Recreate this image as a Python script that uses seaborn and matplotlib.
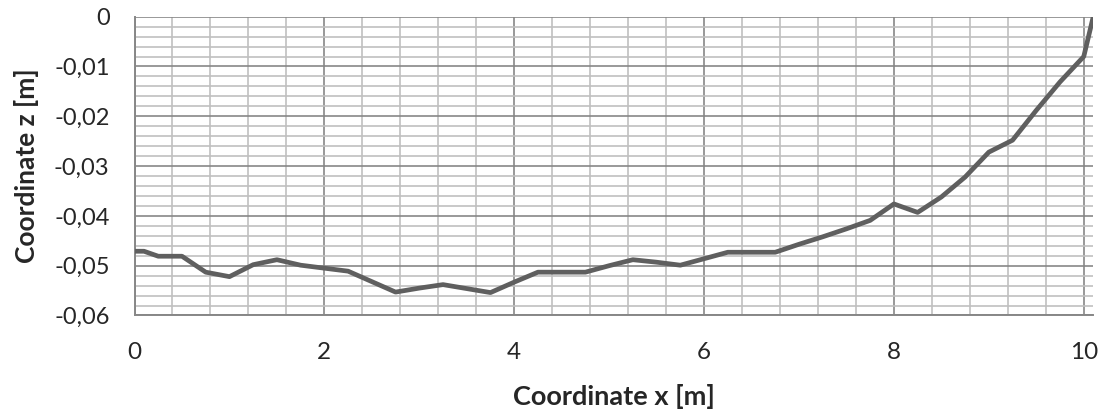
import numpy as np
import pandas as pd
import matplotlib
matplotlib.use("Agg")
import matplotlib.pyplot as plt
import seaborn as sns
from matplotlib.ticker import MultipleLocator, FuncFormatter

# profile along the beam
x_m = [0, 0.1, 0.25, 0.5, 0.75, 1.0, 1.25, 1.5, 1.75, 2.0, 2.25, 2.5, 2.75,
       3.0, 3.25, 3.5, 3.75, 4.0, 4.25, 4.5, 4.75, 5.0, 5.25, 5.5, 5.75,
       6.0, 6.25, 6.5, 6.75, 7.0, 7.25, 7.5, 7.75, 8.0, 8.25, 8.5, 8.75,
       9.0, 9.25, 9.5, 9.75, 10.0, 10.1]
z_m = [-0.0471, -0.0471, -0.0481, -0.0481, -0.0513, -0.0522, -0.0498,
       -0.0488, -0.0499, -0.0505, -0.0511, -0.0532, -0.0553, -0.0545,
       -0.0538, -0.0546, -0.0554, -0.0533, -0.0513, -0.0513, -0.0513,
       -0.0500, -0.0488, -0.0493, -0.0499, -0.0486, -0.0473, -0.0473,
       -0.0473, -0.0457, -0.0442, -0.0426, -0.0409, -0.0376, -0.0393,
       -0.0362, -0.0322, -0.0272, -0.0248, -0.0188, -0.0131, -0.0080, 0.0]

df = pd.DataFrame({"x": x_m, "z": z_m})

sns.set_style("white")
plt.rcParams['font.family'] = ['Lato', 'DejaVu Sans']

fig = plt.figure(figsize=(11.09, 4.16), dpi=100)
ax = fig.add_axes([0.1213, 0.2416, 0.9858 - 0.1213, 0.9599 - 0.2416])

major_c = '#878787'
minor_c = '#c0c0c0'

sns.lineplot(data=df, x="x", y="z", ax=ax, color='#5f5f5f', linewidth=3.4,
             sort=False, estimator=None, zorder=5)

ax.set_xlim(0, 10.1)
ax.set_ylim(-0.06, 0)
ax.xaxis.set_major_locator(MultipleLocator(2))
ax.xaxis.set_minor_locator(MultipleLocator(0.4))
ax.yaxis.set_major_locator(MultipleLocator(0.01))
ax.yaxis.set_minor_locator(MultipleLocator(0.002))

ax.grid(True, which='minor', color=minor_c, linewidth=1.2)
ax.grid(True, which='major', color=major_c, linewidth=1.2)
ax.set_axisbelow(True)

for s in ['top', 'right']:
    ax.spines[s].set_visible(False)
for s in ['left', 'bottom']:
    ax.spines[s].set_color(major_c)
    ax.spines[s].set_linewidth(1.4)

ax.yaxis.set_major_formatter(FuncFormatter(
    lambda v, p: '0' if abs(v) < 1e-9 else f'{v:.2f}'.replace('.', ',')))
ax.xaxis.set_major_formatter(FuncFormatter(lambda v, p: f'{v:.0f}'))

ax.tick_params(axis='y', which='major', direction='out', length=6,
               color=major_c, width=1.2, labelsize=17, pad=12)
ax.tick_params(axis='y', which='minor', length=0)
ax.tick_params(axis='x', which='both', length=0, labelsize=17.5, pad=19)

ax.set_xlabel('Coordinate x [m]', fontsize=19.5, fontweight='bold', labelpad=15)
ax.set_ylabel('Coordinate z [m]', fontsize=19, fontweight='bold')
ax.yaxis.set_label_coords(-0.1, 0.5)

fig.savefig('out.png', dpi=100)
